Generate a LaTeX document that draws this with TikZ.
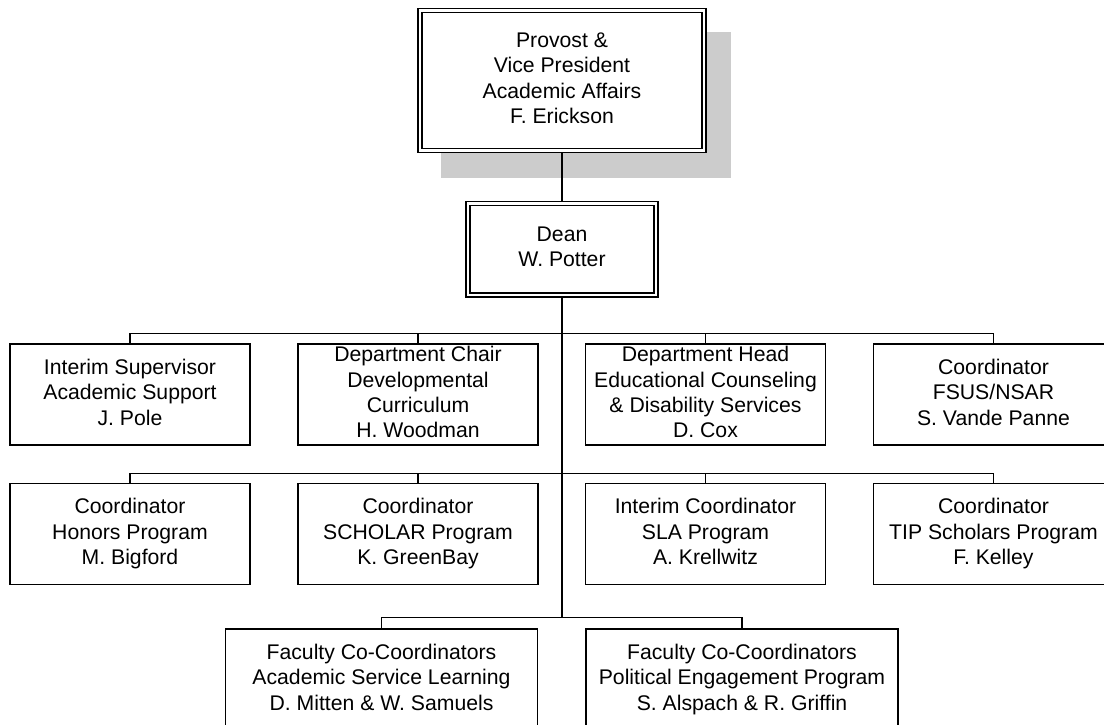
\documentclass[tikz,border=0pt]{standalone}
\usepackage{fontspec}
\setmainfont{Liberation Sans}
\pgfdeclarelayer{bg}
\pgfsetlayers{bg,main}
\newcommand{\evenstrut}{\rule[-4.8pt]{0pt}{24.8pt}}
\begin{document}
\begin{tikzpicture}[x=1pt,y=-1pt,
  txt/.style={font=\fontsize{21.2}{25.3}\selectfont, align=center, inner sep=0pt,
    execute at begin node=\evenstrut, execute at end node=\evenstrut},
  unitbox/.style={txt, draw, line width=1.6pt, fill=white, minimum width=240pt, minimum height=101pt},
  widebox/.style={unitbox, minimum width=312pt},
  dblbox/.style={txt, draw, fill=white, line width=1.6pt, double=white, double distance=2.4pt},
  link/.style={line width=1.6pt}
]
\useasboundingbox (0,0) rectangle (1104,724);
\clip (0,0) rectangle (1104,724);

% top
\node[dblbox, minimum width=284pt, minimum height=140pt] (prov) at (562,80.5)
  {Provost \&\\Vice President\\Academic Affairs\\F. Erickson};
\node[dblbox, minimum width=188pt, minimum height=91.4pt] (dean) at (562,249)
  {Dean\\W. Potter};

% row 1
\node[unitbox] (a1) at (130,394.5) {Interim Supervisor\\Academic Support\\J. Pole};
\node[unitbox] (a2) at (418,394.5) {Department Chair\\Developmental\\Curriculum\\H. Woodman};
\node[unitbox] (a3) at (705.5,394.5) {Department Head\\Educational Counseling\\\& Disability Services\\D. Cox};
\node[unitbox] (a4) at (993.5,394.5) {Coordinator\\FSUS/NSAR\\S. Vande Panne};

% row 2
\node[unitbox] (b1) at (130,534) {Coordinator\\Honors Program\\M. Bigford};
\node[unitbox] (b2) at (418,534) {Coordinator\\SCHOLAR Program\\K. GreenBay};
\node[unitbox] (b3) at (705.5,534) {Interim Coordinator\\SLA Program\\A. Krellwitz};
\node[unitbox] (b4) at (993.5,534) {Coordinator\\TIP Scholars Program\\F. Kelley};

% row 3
\node[widebox] (c1) at (381.5,679.5) {Faculty Co-Coordinators\\Academic Service Learning\\D. Mitten \& W. Samuels};
\node[widebox] (c2) at (742,679.5) {Faculty Co-Coordinators\\Political Engagement Program\\S. Alspach \& R. Griffin};

\coordinate (j1) at (562,333.5);
\coordinate (j2) at (562,473.5);
\coordinate (j3) at (562,617.5);

\begin{pgfonlayer}{bg}
  \fill[black!20] (441,32) rectangle (731,178);
  \draw[link] (prov.center) -- (dean.center);
  \draw[link] (dean.center) -- (j3);
  \draw[link] (a1.north) |- (j1) -| (a4.north);
  \draw[link] (j1) -| (a2.north);
  \draw[link] (j1) -| (a3.north);
  \draw[link] (b1.north) |- (j2) -| (b4.north);
  \draw[link] (j2) -| (b2.north);
  \draw[link] (j2) -| (b3.north);
  \draw[link] (c1.north) |- (j3) -| (c2.north);
\end{pgfonlayer}
\end{tikzpicture}
\end{document}
